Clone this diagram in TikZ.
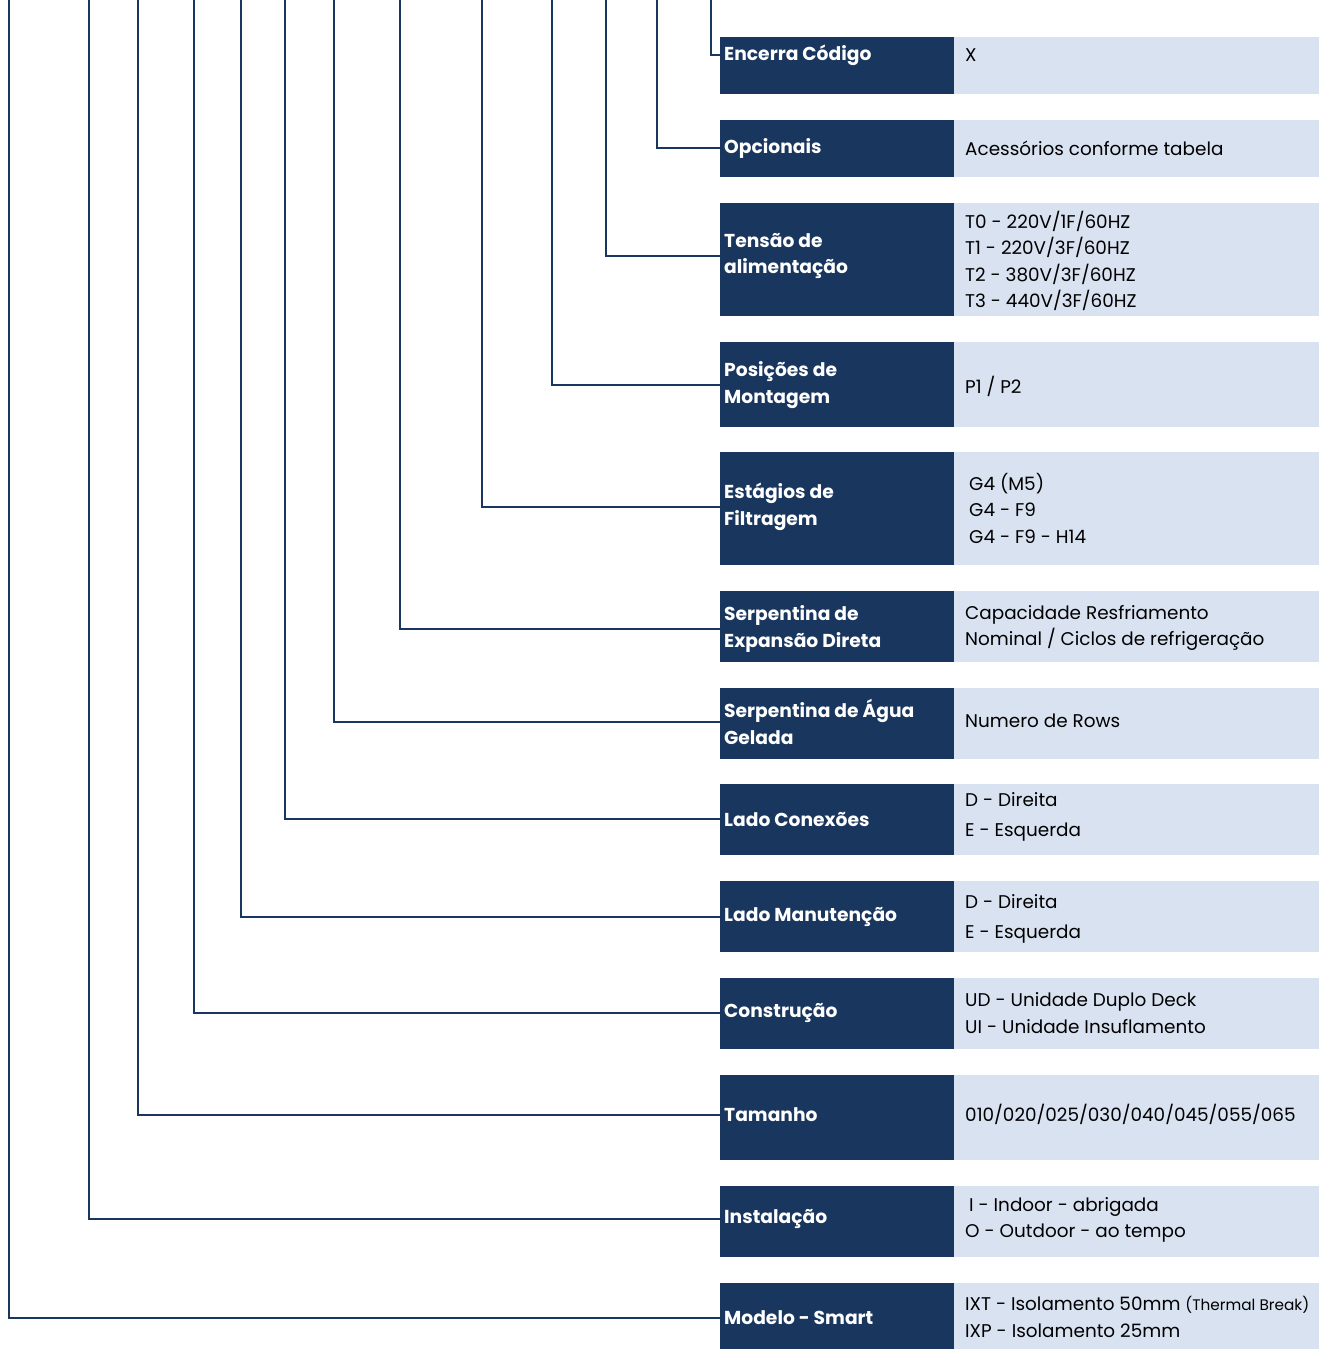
\documentclass[tikz,border=0pt]{standalone}
\usepackage{fontspec}
\setmainfont{Poppins}
\definecolor{navy}{HTML}{19365E}
\definecolor{pale}{HTML}{D9E2F1}
\tikzset{
  darkbox/.style={fill=navy, draw=none, minimum width=234pt, anchor=north west, inner sep=0pt},
  palebox/.style={fill=pale, draw=none, minimum width=365pt, anchor=north west, inner sep=0pt},
  lbl/.style={text=white, anchor=west, inner sep=0pt, align=left, font=\fontsize{18.7}{26.5}\selectfont\bfseries},
  val/.style={text=black, anchor=west, inner sep=0pt, align=left, font=\fontsize{18.4}{26.5}\selectfont},
  conn/.style={draw=navy, line width=1.8pt, line cap=rect},
}
\begin{document}
\begin{tikzpicture}[x=1pt,y=-1pt]
\useasboundingbox (0,0) rectangle (1319,1349);
% row 1
\node[darkbox, minimum height=57pt] (d1) at (720,37) {};
\node[palebox, minimum height=57pt] (p1) at (954,37) {};
\node[lbl] (l1) at (724,55) {Encerra Código};
\node[val] (v1) at (965,55) {X};
% row 2
\node[darkbox, minimum height=57pt] (d2) at (720,120) {};
\node[palebox, minimum height=57pt] (p2) at (954,120) {};
\node[lbl] (l2) at (724,148) {Opcionais};
\node[val] (v2) at (965,148) {Acessórios conforme tabela};
% row 3
\node[darkbox, minimum height=113pt] (d3) at (720,203) {};
\node[palebox, minimum height=113pt] (p3) at (954,203) {};
\node[lbl] (l3) at (724,256) {Tensão de\\alimentação};
\node[val] (v3) at (965,261) {T0 - 220V/1F/60HZ\\T1 - 220V/3F/60HZ\\T2 - 380V/3F/60HZ\\T3 - 440V/3F/60HZ};
% row 4
\node[darkbox, minimum height=85pt] (d4) at (720,342) {};
\node[palebox, minimum height=85pt] (p4) at (954,342) {};
\node[lbl] (l4) at (724,385) {Posições de\\Montagem};
\node[val] (v4) at (965,386) {P1 / P2};
% row 5
\node[darkbox, minimum height=113pt] (d5) at (720,452) {};
\node[palebox, minimum height=113pt] (p5) at (954,452) {};
\node[lbl] (l5) at (724,507) {Estágios de\\Filtragem};
\node[val] (v5) at (969,508) {G4 (M5)\\G4 - F9\\G4 - F9 - H14};
% row 6
\node[darkbox, minimum height=71pt] (d6) at (720,591) {};
\node[palebox, minimum height=71pt] (p6) at (954,591) {};
\node[lbl] (l6) at (724,629) {Serpentina de\\Expansão Direta};
\node[val] (v6) at (965,628) {Capacidade Resfriamento\\Nominal / Ciclos de refrigeração};
% row 7
\node[darkbox, minimum height=71pt] (d7) at (720,688) {};
\node[palebox, minimum height=71pt] (p7) at (954,688) {};
\node[lbl] (l7) at (724,722) {Serpentina de Água\\Gelada};
\node[val] (v7) at (965,721) {Numero de Rows};
% row 8
\node[darkbox, minimum height=71pt] (d8) at (720,784) {};
\node[palebox, minimum height=71pt] (p8) at (954,784) {};
\node[lbl] (l8) at (724,819) {Lado Conexões};
\node[val, font=\fontsize{18.4}{30}\selectfont] (v8) at (965,817) {D - Direita\\E - Esquerda};
% row 9
\node[darkbox, minimum height=71pt] (d9) at (720,881) {};
\node[palebox, minimum height=71pt] (p9) at (954,881) {};
\node[lbl] (l9) at (724,917) {Lado Manutenção};
\node[val, font=\fontsize{18.4}{30}\selectfont] (v9) at (965,919) {D - Direita\\E - Esquerda};
% row 10
\node[darkbox, minimum height=71pt] (d10) at (720,978) {};
\node[palebox, minimum height=71pt] (p10) at (954,978) {};
\node[lbl] (l10) at (724,1013) {Construção};
\node[val] (v10) at (965,1013) {UD - Unidade Duplo Deck\\UI - Unidade Insuflamento};
% row 11
\node[darkbox, minimum height=85pt] (d11) at (720,1075) {};
\node[palebox, minimum height=85pt] (p11) at (954,1075) {};
\node[lbl] (l11) at (724,1115) {Tamanho};
\node[val] (v11) at (965,1114) {010/020/025/030/040/045/055/065};
% row 12
\node[darkbox, minimum height=71pt] (d12) at (720,1186) {};
\node[palebox, minimum height=71pt] (p12) at (954,1186) {};
\node[lbl] (l12) at (724,1219) {Instalação};
\node[val] (v12) at (965,1220) {\hspace*{4pt}I - Indoor - abrigada\\O - Outdoor - ao tempo};
% row 13
\node[darkbox, minimum height=66pt] (d13) at (720,1283) {};
\node[palebox, minimum height=66pt] (p13) at (954,1283) {};
\node[lbl] (l13) at (724,1318) {Modelo - Smart};
\node[val] (v13) at (965,1317) {IXT - Isolamento 50mm {\fontsize{15.3}{26.5}\selectfont(Thermal Break)}\\IXP - Isolamento 25mm};
% connector tops
\coordinate (t1) at (711,0);
\coordinate (t2) at (657,0);
\coordinate (t3) at (606,0);
\coordinate (t4) at (552,0);
\coordinate (t5) at (482,0);
\coordinate (t6) at (400,0);
\coordinate (t7) at (334,0);
\coordinate (t8) at (285,0);
\coordinate (t9) at (241,0);
\coordinate (t10) at (194,0);
\coordinate (t11) at (138,0);
\coordinate (t12) at (89,0);
\coordinate (t13) at (9,0);
\foreach \i in {1,...,13}{
  \draw[conn] (t\i) |- (l\i.west -| d\i.west);
}
\end{tikzpicture}
\end{document}
